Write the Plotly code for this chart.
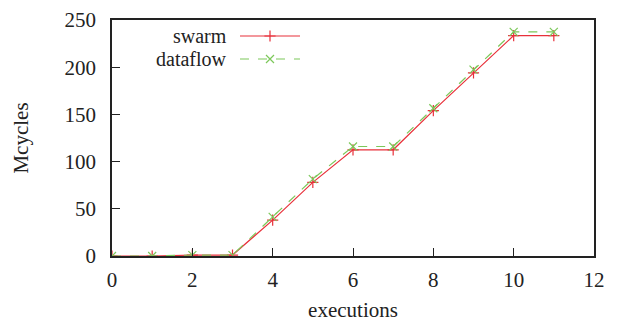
import plotly.graph_objects as go

executions = [0, 1, 2, 3, 4, 5, 6, 7, 8, 9, 10, 11]
swarm = [0, 0, 1, 1, 38, 78, 112.5, 112.5, 154, 194, 233.5, 233.5]
dataflow = [0, 0, 1, 1, 41.5, 81.5, 116, 116, 156.5, 197.5, 237.5, 237.5]
series_names = ["swarm", "dataflow"]
x_ticks = [0, 2, 4, 6, 8, 10, 12]
y_ticks = [0, 50, 100, 150, 200, 250]

RED = "#e8303a"
GREEN = "#7cc85a"
FONT = "Liberation Serif, Times New Roman, serif"
FS = 21
MS = 8

fig = go.Figure()
fig.add_trace(go.Scatter(
    x=executions, y=swarm, mode="lines+markers", name=series_names[0],
    line=dict(color=RED, width=1.2),
    marker=dict(symbol="cross-thin-open", size=MS, color=RED, line=dict(color=RED, width=1.2)),
    showlegend=False))
fig.add_trace(go.Scatter(
    x=executions, y=dataflow, mode="lines+markers", name=series_names[1],
    line=dict(color=GREEN, width=1.2, dash="dash"),
    marker=dict(symbol="x-thin-open", size=MS, color=GREEN, line=dict(color=GREEN, width=1.2)),
    showlegend=False))

# legend drawn in an overlay frame measured in window pixels
LX0, LX1, LXM, LTX = 240, 300, 270, 228
LY = [36, 59]
styles = [(RED, "solid", "cross-thin-open"), (GREEN, "dash", "x-thin-open")]
for name, ly, (col, dash, sym) in zip(series_names, LY, styles):
    fig.add_trace(go.Scatter(x=[LX0, LX1], y=[ly, ly], xaxis="x2", yaxis="y2",
                             mode="lines", line=dict(color=col, width=1.2, dash=dash),
                             showlegend=False, hoverinfo="skip"))
    fig.add_trace(go.Scatter(x=[LXM], y=[ly], xaxis="x2", yaxis="y2", mode="markers",
                             marker=dict(symbol=sym, size=MS, color=col, line=dict(color=col, width=1.2)),
                             showlegend=False, hoverinfo="skip"))
    fig.add_annotation(x=LTX, y=ly, xref="x2", yref="y2", text=name, showarrow=False,
                       xanchor="right", yanchor="middle", borderpad=0,
                       font=dict(family=FONT, size=20, color="#222"))

axis_common = dict(
    showline=True, linecolor="#222", linewidth=1.5, mirror=True,
    ticks="inside", ticklen=8, tickwidth=1.3, tickcolor="#222",
    showgrid=False, zeroline=False, automargin=False, ticklabeloverflow="allow",
    tickfont=dict(family=FONT, size=FS, color="#222"),
)
# page body has an 8px margin, so the figure is 8px smaller than the window
fig.update_layout(
    width=614, height=314,
    margin=dict(l=104, r=28, t=12, b=66, autoexpand=False),
    plot_bgcolor="white", paper_bgcolor="white",
    xaxis=dict(range=[0, 12], tickvals=x_ticks, ticklabelstandoff=4,
               title=dict(text="executions", font=dict(family=FONT, size=FS, color="#222"), standoff=14),
               **axis_common),
    yaxis=dict(range=[0, 250], tickvals=y_ticks, ticklabelstandoff=10,
               title=dict(text="Mcycles", font=dict(family=FONT, size=FS, color="#222"), standoff=30),
               **axis_common),
    xaxis2=dict(overlaying="x", range=[112, 594], visible=False, automargin=False),
    yaxis2=dict(overlaying="y", range=[256, 20], visible=False, automargin=False),
    showlegend=False,
)
fig.write_html("out.html")
